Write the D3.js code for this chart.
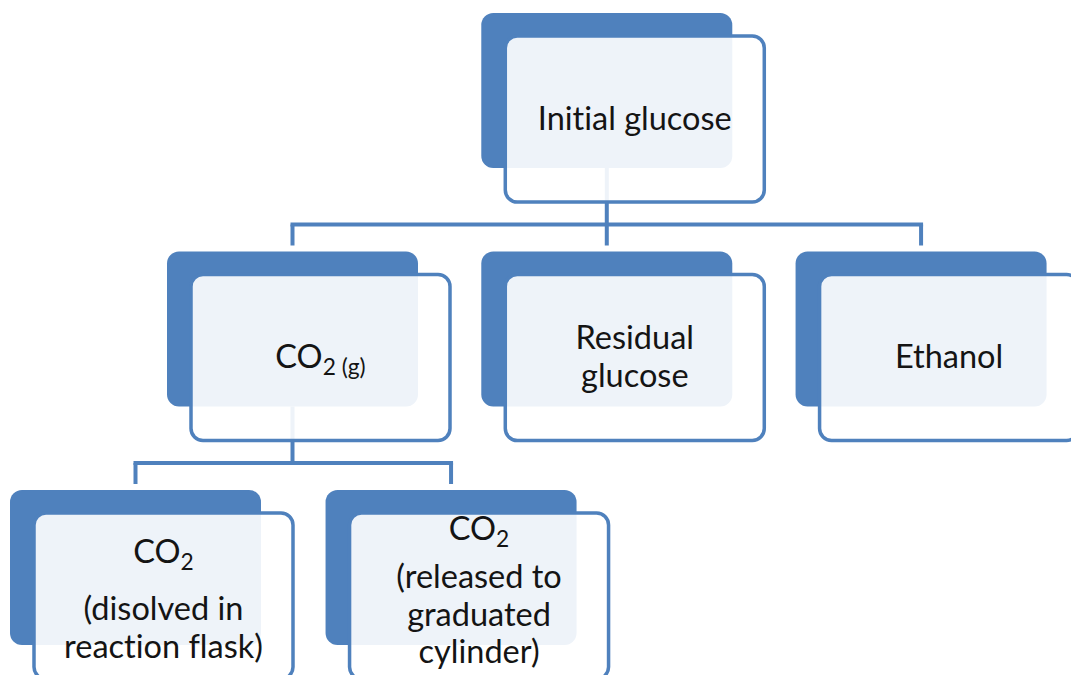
<!DOCTYPE html>
<html>
<head>
<meta charset="utf-8">
<script src="https://cdn.jsdelivr.net/npm/d3@7"></script>
<style>
  html, body { margin: 0; padding: 0; background: #fff; }
  svg { display: block; }
  .label { font-family: Lato, "Open Sans", sans-serif; fill: #141414; font-variant-ligatures: none; }
</style>
</head>
<body>
<svg id="chart" width="1071" height="675"></svg>
<script>
// Tree data (one entry per box)
const nodeIds   = ['glucose', 'co2', 'residual', 'ethanol', 'dissolved', 'released'];
const parentIds = [null, 'glucose', 'glucose', 'glucose', 'co2', 'co2'];
const levels    = [0, 1, 1, 1, 2, 2];
const columns   = [1, 0, 1, 2, 0, 1];
// each line is a list of runs, a run starting with "_" is a subscript
const labels = [
    [['Initial glucose']],
    [['CO', '_2 (g)']],
    [['Residual'], ['glucose']],
    [['Ethanol']],
    [['CO', '_2'], ['(disolved in'], ['reaction flask)']],
    [['CO', '_2'], ['(released to'], ['graduated'], ['cylinder)']]
];

const blue = '#4f81bd';
const svg = d3.select('#chart');

// Box geometry
const backW = 251, backH = 155;
const frontDx = 24, frontDy = 23, frontW = 259, frontH = 166;
const fontSize = 32.5;
const lineGap = 37.5;

// Scales for placing the boxes
const xUpper = d3.scaleBand().domain([0, 1, 2]).range([167, 1047]).paddingInner(0.2);
const xLower = d3.scaleBand().domain([0, 1]).range([10, 578]).paddingInner(0.2);
const yLevel = d3.scaleLinear().domain([0, 2]).range([13, 490]);

const table = nodeIds.map((id, i) => ({
    id: id, parentId: parentIds[i], level: levels[i], col: columns[i], lines: labels[i]
}));
const root = d3.stratify().id(d => d.id).parentId(d => d.parentId)(table);

root.each(n => {
    const x = n.data.level < 2 ? xUpper(n.data.col) : xLower(n.data.col);
    n.x = x;
    n.y = yLevel(n.data.level);
    n.cx = x + backW / 2;
});

// Text placement overrides for the lower boxes (text is not centred there)
const firstBaseline = { dissolved: 50, released: 27 };
const subLineGap = { dissolved: 57, released: 48 };

// Connectors (drawn first so they show faintly through the front boxes)
const conn = svg.append('g')
    .attr('fill', 'none')
    .attr('stroke', blue)
    .attr('stroke-width', 4);

root.descendants().filter(n => n.children).forEach(n => {
    const kids = n.children;
    const midY = kids[0].y - 27;
    const xs = kids.map(k => k.cx);
    conn.append('path')
        .attr('d', `M${n.cx},${n.y + backH}V${midY}`);
    conn.append('path')
        .attr('d', `M${d3.min(xs) - 2},${midY}H${d3.max(xs) + 2}`);
    kids.forEach(k => {
        conn.append('path')
            .attr('d', `M${k.cx},${midY}V${k.y - 6}`);
    });
});

// Boxes
const box = svg.append('g')
    .selectAll('g')
    .data(root.descendants())
    .enter().append('g')
    .attr('transform', d => `translate(${d.x},${d.y})`);

// Dark back card
box.append('rect')
    .attr('width', backW)
    .attr('height', backH)
    .attr('rx', 12)
    .attr('fill', blue);

// Light front card
box.append('rect')
    .attr('x', frontDx)
    .attr('y', frontDy)
    .attr('width', frontW)
    .attr('height', frontH)
    .attr('rx', 12)
    .attr('fill', '#ffffff')
    .attr('fill-opacity', 0.9)
    .attr('stroke', blue)
    .attr('stroke-width', 3.5);

// Labels
box.each(function(d) {
    const g = d3.select(this);
    const lines = d.data.lines;
    const hasSub = lines[0].length > 1;
    const cx = frontDx + frontW / 2;
    let baselines = [];
    if (firstBaseline[d.id] !== undefined) {
        let y = frontDy + firstBaseline[d.id];
        lines.forEach((l, i) => {
            baselines.push(y);
            y += (i === 0 && hasSub) ? subLineGap[d.id] : lineGap;
        });
    } else {
        const span = (lines.length - 1) * lineGap;
        const cy = frontDy + frontH / 2;
        lines.forEach((l, i) => baselines.push(cy - span / 2 + 10.5 + i * lineGap));
    }

    lines.forEach((runs, i) => {
        const text = g.append('text')
            .attr('class', 'label')
            .attr('x', cx)
            .attr('y', baselines[i])
            .attr('text-anchor', 'middle')
            .style('font-size', fontSize + 'px');
        runs.forEach(r => {
            if (r.startsWith('_')) {
                text.append('tspan')
                    .attr('dy', 7)
                    .style('font-size', '0.7em')
                    .text(r.slice(1));
            } else {
                text.append('tspan').text(r);
            }
        });
    });
});
</script>
</body>
</html>
